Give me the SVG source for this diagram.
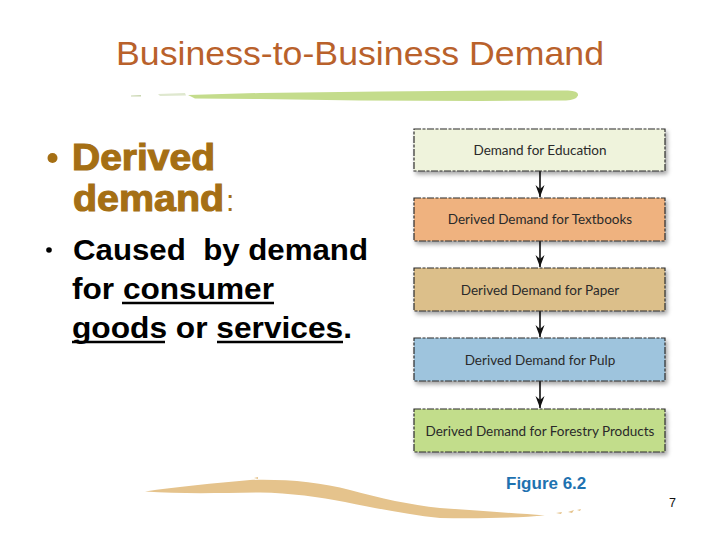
<svg xmlns="http://www.w3.org/2000/svg" width="720" height="540" viewBox="0 0 720 540">
<defs>
<style>
.title{font-family:"Liberation Sans",Arial,sans-serif;font-size:33px;fill:#b9612b}
.h1{font-family:"Liberation Sans",Arial,sans-serif;font-weight:bold;font-size:36px;fill:#a56f14;stroke:#a56f14;stroke-width:1.1}
.b2{font-family:"Liberation Sans",Arial,sans-serif;font-weight:bold;font-size:30px;fill:#000}
.box{stroke:#2e2e2e;stroke-width:1.2;stroke-dasharray:7 1.5 3 1.5;filter:url(#sh)}
.lbl{font-family:Lato,"Open Sans",sans-serif;font-size:13.5px;fill:#2a2a2a;text-anchor:middle}
.conn{stroke:#111;stroke-width:1.6;fill:none;marker-end:url(#ah)}
.ul{stroke:#000;stroke-width:2.4}
</style>
<filter id="sh" x="-5%" y="-20%" width="115%" height="160%">
<feDropShadow dx="2" dy="3" stdDeviation="2" flood-color="#000" flood-opacity="0.35"/>
</filter>
<marker id="ah" viewBox="0 0 12 10" refX="12" refY="5" markerWidth="12" markerHeight="10" markerUnits="userSpaceOnUse" orient="auto">
<path d="M0,0.5 L12,5 L0,9.5 L4,5 Z" fill="#111"/>
</marker>
</defs>
<rect width="720" height="540" fill="#fff"/>

<g id="title">
<text class="title" x="116" y="65" textLength="488" lengthAdjust="spacingAndGlyphs">Business-to-Business Demand</text>
</g>

<g id="top-brush">
<path d="M131,95.5 L141,95 L141,96.5 L131,96.5 Z" fill="#c9d6b0"/>
<path d="M158,94 L185,93 L186,95.5 L160,96 Z" fill="#dfe8cf"/>
<path d="M188,95 L260,93 L380,91.5 L500,90.5 L568,90.5 Q579,91 578,95.5 Q576,100 566,100.5 L480,101 L360,100.5 L260,99 L195,98.5 Z" fill="#c4dc8c"/>
</g>

<g id="bullets">
<circle cx="52.5" cy="158" r="5" fill="#a56f14"/>
<text class="h1" x="72" y="170" textLength="143" lengthAdjust="spacingAndGlyphs">Derived</text>
<text class="h1" x="73" y="211" textLength="151" lengthAdjust="spacingAndGlyphs">demand</text>
<text x="226" y="211" font-family="Liberation Sans,Arial,sans-serif" font-size="30" fill="#a56f14">:</text>
<circle cx="49" cy="250" r="2.8" fill="#000"/>
<text class="b2" x="73" y="260" textLength="295" lengthAdjust="spacingAndGlyphs">Caused&#160; by demand</text>
<text class="b2" x="72" y="299" textLength="202" lengthAdjust="spacingAndGlyphs">for consumer</text>
<text class="b2" x="72" y="338" textLength="280" lengthAdjust="spacingAndGlyphs">goods or services.</text>
<line class="ul" x1="122" y1="303" x2="274" y2="303"/>
<line class="ul" x1="72" y1="342" x2="165" y2="342"/>
<line class="ul" x1="217" y1="342" x2="343" y2="342"/>
</g>

<g id="connectors">
<line class="conn" x1="540" y1="171" x2="540" y2="197"/>
<line class="conn" x1="540" y1="241" x2="540" y2="267"/>
<line class="conn" x1="540" y1="311" x2="540" y2="337"/>
<line class="conn" x1="540" y1="381" x2="540" y2="408"/>
</g>

<g id="n1"><rect class="box" x="414" y="129" width="251" height="42" fill="#eff3dc"/><text class="lbl" x="540" y="155">Demand for Education</text></g>
<g id="n2"><rect class="box" x="414" y="198" width="251" height="43" fill="#efb27f"/><text class="lbl" x="540" y="224">Derived Demand for Textbooks</text></g>
<g id="n3"><rect class="box" x="414" y="268" width="251" height="43" fill="#dcbf8a"/><text class="lbl" x="540" y="295">Derived Demand for Paper</text></g>
<g id="n4"><rect class="box" x="414" y="338" width="251" height="43" fill="#9ec4dd"/><text class="lbl" x="540" y="365">Derived Demand for Pulp</text></g>
<g id="n5"><rect class="box" x="414" y="409" width="251" height="43" fill="#c2dd8b"/><text class="lbl" x="540" y="436">Derived Demand for Forestry Products</text></g>

<g id="bottom-brush">
<path d="M145,491.5 C175,487 215,483 250,480 C285,479 320,482 350,490 C380,498 410,505 440,508 C480,511 515,513 545,515.5 C520,517.5 480,519 440,518 C410,515 380,509 345,502 C320,497 290,493 260,492.5 C220,493 180,494 145,491.5 Z" fill="#e5c38c"/>
<path d="M556,513 L562,512 L561,514 Z M568,512 L574,510 L572,513 Z M577,510 L581,509 L580,511 Z M254,478 L258,477 L258,479 Z" fill="#e5c38c"/>
</g>

<g id="caption">
<text x="506" y="489" font-family="Liberation Sans,Arial,sans-serif" font-weight="bold" font-size="17" fill="#1e72b0">Figure 6.2</text>
<text x="669" y="507" font-family="Liberation Sans,Arial,sans-serif" font-size="12.5" fill="#111">7</text>
</g>
</svg>
